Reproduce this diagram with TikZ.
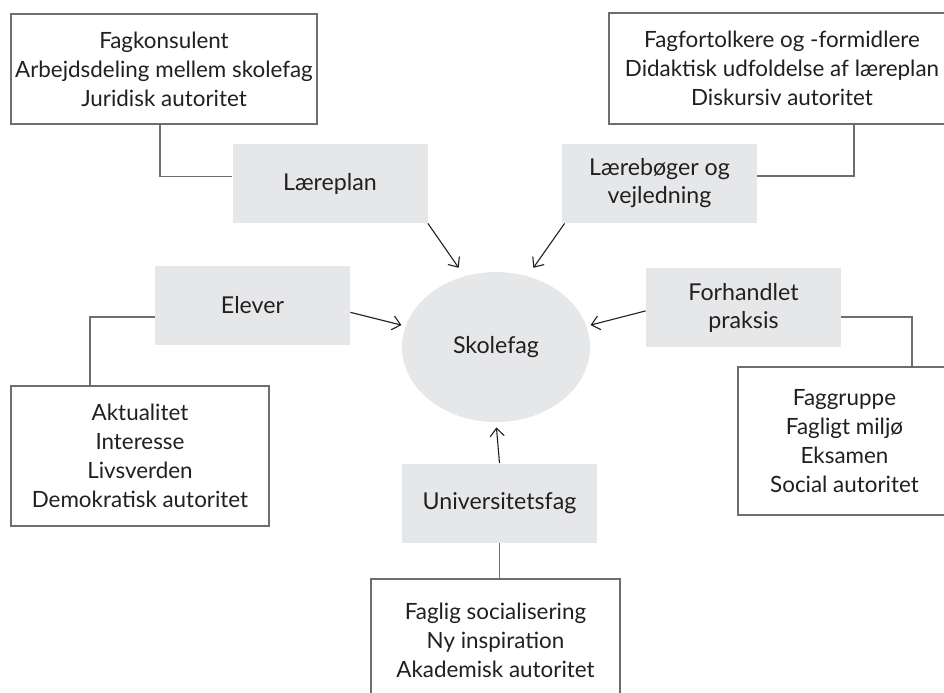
\documentclass[tikz,border=0pt]{standalone}
\usepackage{fontspec}
\setmainfont{Lato}
\usetikzlibrary{arrows.meta,shapes.geometric}

\definecolor{boxgrey}{HTML}{E6E7E8}
\definecolor{linegrey}{HTML}{6D6E71}
\definecolor{ink}{HTML}{231F20}

\begin{document}
\begin{tikzpicture}[x=0.5pt,y=-0.5pt,
  infobox/.style={draw=linegrey,line width=0.7pt,fill=white,align=center,text=ink,
    inner sep=0pt,font=\fontsize{11.2}{14.5}\selectfont},
  labelbox/.style={fill=boxgrey,align=center,text=ink,minimum width=97.5pt,
    minimum height=39.5pt,inner sep=0pt,font=\fontsize{11.6}{14}\selectfont},
  arr/.style={-{Straight Barb[length=4pt,width=7pt]},ink,line width=0.55pt},
  conn/.style={linegrey,line width=0.7pt}]
\useasboundingbox (0,0) rectangle (944,692);
\clip (0,0) rectangle (944,692);

%centre
\node[ellipse,fill=boxgrey,text=ink,minimum width=94pt,minimum height=75pt,
  inner sep=0pt,font=\fontsize{11.6}{14}\selectfont] (sk) at (496,347) {Skolefag};

%grey labels
\node[labelbox] (lp) at (330,183.5) {Læreplan};
\node[labelbox] (lb) at (659.5,183.5) {Lærebøger og\\vejledning};
\node[labelbox] (el) at (252.5,305.5) {Elever};
\node[labelbox] (fh) at (743.5,307.5) {Forhandlet\\praksis};
\node[labelbox] (us) at (499.5,503) {Universitetsfag};

%white boxes
\node[infobox,minimum width=153pt,minimum height=55pt] (fk) at (164,69)
  {Fagkonsulent\\Arbejdsdeling mellem skolefag\\Juridisk autoritet};
\node[infobox,minimum width=173pt,minimum height=55.5pt] (ff) at (782,68.5)
  {Fagfortolkere og -formidlere\\Didaktisk udfoldelse af læreplan\\Diskursiv autoritet};
\node[infobox,minimum width=129pt,minimum height=70pt] (ak) at (140,456)
  {Aktualitet\\Interesse\\Livsverden\\Demokratisk autoritet};
\node[infobox,minimum width=106.5pt,minimum height=74pt] (fg) at (844.5,441)
  {Faggruppe\\Fagligt miljø\\Eksamen\\Social autoritet};
\node[infobox,minimum width=124.5pt,minimum height=61pt] (fs) at (495.5,640)
  {Faglig socialisering\\Ny inspiration\\Akademisk autoritet};

%connectors
\draw[conn] ([yshift=3.5pt]lp.west) -| ([xshift=-2pt]fk.south);
\draw[conn] ([yshift=3.75pt]lb.east) -| ([xshift=36pt]ff.south);
\draw[conn] ([yshift=-5.75pt]el.west) -| ([xshift=-25pt]ak.north);
\draw[conn] ([yshift=-4.75pt]fh.east) -| ([xshift=33.75pt]fg.north);
\draw[conn] (us.south) -- (us.south |- fs.north);

%arrows
\draw[arr,shorten >=5pt] (lp.south east) -- (sk.114);
\draw[arr,shorten >=5pt] ([xshift=1.5pt]lb.south west) -- (sk.66);
\draw[arr,shorten >=2pt] (el.-4) -- (sk.167);
\draw[arr,shorten >=2pt] (fh.182) -- (sk.13);
\draw[arr,shorten >=2.5pt] (us.north) -- (sk.south);
\end{tikzpicture}
\end{document}
